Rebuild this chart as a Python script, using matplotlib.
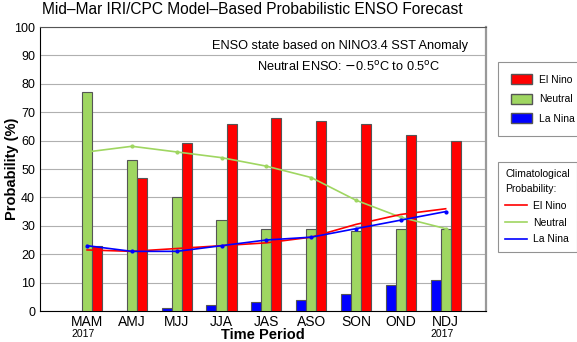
import numpy as np
import matplotlib
matplotlib.use("Agg")
from matplotlib import pyplot as plt
from matplotlib.patches import Patch
from matplotlib.lines import Line2D

plt.rcParams['font.family'] = ['Liberation Sans', 'DejaVu Sans']

seasons = ['MAM', 'AMJ', 'MJJ', 'JJA', 'JAS', 'ASO', 'SON', 'OND', 'NDJ']
el_nino = [23, 47, 59, 66, 68, 67, 66, 62, 60]
neutral = [77, 53, 40, 32, 29, 29, 28, 29, 29]
la_nina = [0, 0, 1, 2, 3, 4, 6, 9, 11]

clim_el_nino = [21.5, 21, 22, 23, 24, 26, 30.5, 34, 36]
clim_neutral = [56, 58, 56, 54, 51, 47, 39, 33, 29]
clim_la_nina = [23, 21, 21, 23, 25, 26, 29, 32, 35]

red = '#ff0000'
green = '#9fd661'
blue = '#0000ff'

fig = plt.figure(figsize=(5.77, 3.42), dpi=100)
ax = fig.add_axes([40 / 577, 1 - 311 / 342, 446 / 577, 284 / 342])

x = np.arange(len(seasons))
w = 0.225
ax.bar(x - w, la_nina, w, color=blue, edgecolor='#555555', linewidth=0.8, zorder=3)
ax.bar(x, neutral, w, color=green, edgecolor='#555555', linewidth=0.8, zorder=3)
ax.bar(x + w, el_nino, w, color=red, edgecolor='#555555', linewidth=0.8, zorder=3)

ax.plot(x, clim_neutral, color=green, lw=1.2, marker='o', ms=2, zorder=4)
ax.plot(x, clim_el_nino, color=red, lw=1.2, zorder=4)
ax.plot(x, clim_la_nina, color=blue, lw=1.2, marker='o', ms=2, zorder=5)

ax.set_xlim(-1.05, 8.9)
ax.set_ylim(0, 100)
ax.set_yticks(range(0, 101, 10))
ax.yaxis.grid(True, color='#b0b0b0', lw=0.8, zorder=0)
ax.tick_params(axis='both', length=0, labelsize=9)
ax.set_xticks(x)
ax.set_xticklabels(seasons, fontsize=10)
ax.tick_params(axis='x', pad=3)
ax.spines['top'].set_color('#555555')
ax.spines['right'].set_color('#999999')
ax.spines['right'].set_linewidth(1.6)

ax.text(-0.08, -8, '2017', ha='center', va='center', fontsize=7.5, clip_on=False)
ax.text(7.92, -8, '2017', ha='center', va='center', fontsize=7.5, clip_on=False)

ax.text(5.64, 93.3, 'ENSO state based on NINO3.4 SST Anomaly', ha='center', va='center', fontsize=9.2)
ax.text(5.84, 85.9, 'Neutral ENSO: $-$0.5$^{\\rm o}$C to 0.5$^{\\rm o}$C', ha='center', va='center', fontsize=9.2)

fig.text(252 / 577, 1 - 10 / 342, 'Mid\u2013Mar IRI/CPC Model\u2013Based Probabilistic ENSO Forecast',
         ha='center', va='center', fontsize=11.2)
fig.text(12 / 577, 1 - 169 / 342, 'Probability (%)', rotation=90, ha='center', va='center',
         fontsize=10.5, fontweight='bold')
fig.text(263 / 577, 1 - 335 / 342, 'Time Period', ha='center', va='center', fontsize=10.5, fontweight='bold')

h1 = [Patch(facecolor=red, edgecolor='#555555', label='El Nino'),
      Patch(facecolor=green, edgecolor='#555555', label='Neutral'),
      Patch(facecolor=blue, edgecolor='#555555', label='La Nina')]
leg1 = fig.legend(handles=h1, loc='upper left', bbox_to_anchor=(498 / 577, 1 - 62 / 342),
                  borderaxespad=0, fontsize=7.5, fancybox=False, edgecolor='#777777',
                  handlelength=2.1, handleheight=1.1, borderpad=1.2, labelspacing=0.85,
                  handletextpad=0.6)
leg1.get_frame().set_linewidth(0.8)

h2 = [Line2D([], [], color=red, lw=1.2, label='El Nino'),
      Line2D([], [], color=green, lw=1.2, label='Neutral'),
      Line2D([], [], color=blue, lw=1.2, label='La Nina')]
leg2 = fig.legend(handles=h2, loc='upper left', bbox_to_anchor=(498 / 577, 1 - 162 / 342),
                  borderaxespad=0, title='Climatological\nProbability:', title_fontsize=7.5,
                  fontsize=7.5, fancybox=False, edgecolor='#777777', handlelength=2.1,
                  borderpad=0.7, labelspacing=0.65, handletextpad=0.6, alignment='left')
leg2.get_title().set_linespacing(1.6)
leg2.get_frame().set_linewidth(0.8)

fig.savefig('out.png', dpi=100)
